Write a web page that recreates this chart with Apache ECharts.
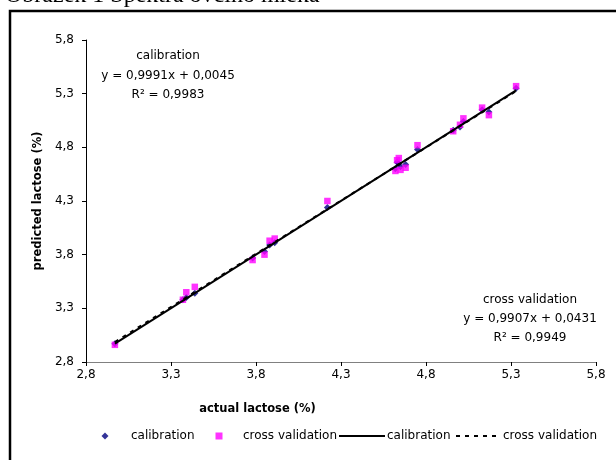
<!DOCTYPE html>
<html>
<head>
<meta charset="utf-8">
<script src="https://cdn.jsdelivr.net/npm/echarts@6/dist/echarts.min.js"></script>
<style>
html,body{margin:0;padding:0;background:#fff;}
#chart{width:616px;height:460px;}
</style>
</head>
<body>
<div id="chart"></div>
<script>
// actual lactose (%) of the samples
var actual = [2.97, 3.37, 3.39, 3.44, 3.78, 3.85, 3.88, 3.91, 4.22, 4.62, 4.63, 4.64, 4.65, 4.68, 4.75, 4.96, 5.00, 5.02, 5.13, 5.17, 5.33];
// predicted lactose (%), calibration
var calibrationPred = [2.97, 3.38, 3.40, 3.44, 3.77, 3.83, 3.89, 3.91, 4.24, 4.60, 4.66, 4.65, 4.62, 4.64, 4.78, 4.96, 4.99, 5.04, 5.15, 5.13, 5.35];
// predicted lactose (%), cross validation
var crossValPred = [2.96, 3.38, 3.45, 3.50, 3.75, 3.80, 3.93, 3.95, 4.30, 4.58, 4.68, 4.70, 4.59, 4.61, 4.82, 4.95, 5.01, 5.07, 5.17, 5.10, 5.37];
// trend line end points [x, y]
var calibrationLine = [[2.97, 2.972], [5.33, 5.330]];
var crossValLine = [[2.97, 2.986], [5.33, 5.324]];
// axis ticks
var tickValues = [2.8, 3.3, 3.8, 4.3, 4.8, 5.3, 5.8];
var tickLabels = ['2,8', '3,3', '3,8', '4,3', '4,8', '5,3', '5,8'];

function pairs(xs, ys) { return xs.map(function (x, i) { return [x, ys[i]]; }); }
function fmt(v) {
  for (var i = 0; i < tickValues.length; i++) if (Math.abs(tickValues[i] - v) < 1e-6) return tickLabels[i];
  return '';
}

var FONT = 'DejaVu Sans';
var chart = echarts.init(document.getElementById('chart'), null, {renderer: 'canvas'});

function axisCommon(lineColor) {
  return {
    type: 'value', min: 2.8, max: 5.8,
    axisLine: {show: true, lineStyle: {color: lineColor, width: 1}},
    axisTick: {show: true, length: 4, inside: false, customValues: tickValues, lineStyle: {color: '#000'}},
    axisLabel: {show: true, customValues: tickValues, formatter: fmt, color: '#000', fontFamily: FONT, fontSize: 12},
    splitLine: {show: false}
  };
}

var xAxis = axisCommon('#808080');
xAxis.name = 'actual lactose (%)';
xAxis.nameLocation = 'middle';
xAxis.nameGap = 41;
xAxis.nameTextStyle = {fontFamily: FONT, fontSize: 11.5, fontWeight: 'bold', color: '#000', padding: [0, 167, 0, 0]};
xAxis.axisLabel.margin = 7;

var yAxis = axisCommon('#000');
yAxis.name = 'predicted lactose (%)';
yAxis.nameLocation = 'middle';
yAxis.nameGap = 41;
yAxis.nameRotate = 90;
yAxis.nameTextStyle = {fontFamily: FONT, fontSize: 11.5, fontWeight: 'bold', color: '#000'};
yAxis.axisLabel.margin = 12;

function legendItem(name, left, w, textPad, hideSymbol) {
  var l = {
    data: [name], left: left, top: 430, itemWidth: w, itemHeight: 7, itemGap: 0,
    selectedMode: false, orient: 'horizontal', padding: 0,
    formatter: function (n) { return n.trim(); },
    textStyle: {fontFamily: FONT, fontSize: 12, color: '#000', padding: [0, 0, 0, textPad]}
  };
  if (hideSymbol) l.itemStyle = {opacity: 0};
  return l;
}

var option = {
  animation: false,
  backgroundColor: '#fff',
  grid: {left: 86, right: 20, top: 40, bottom: 98, containLabel: false},
  xAxis: xAxis,
  yAxis: yAxis,
  legend: [
    legendItem('calibration', 101.5, 7, 17.5, false),
    legendItem('cross validation', 215.5, 7, 15.5, false),
    legendItem('calibration ', 338, 46, -3, true),
    legendItem('cross validation ', 455, 43, -1, true)
  ],
  graphic: [
    {type: 'rect', shape: {x: 10, y: 11, width: 700, height: 600}, style: {fill: 'none', stroke: '#000', lineWidth: 2.5}, z: 100},
    {type: 'text', x: 5, y: 8, style: {text: 'Obrázek 1 Spektra ovčího mléka', fontFamily: 'Liberation Serif', fontSize: 24, fill: '#000', verticalAlign: 'bottom', align: 'left'}},
    {type: 'text', x: 168, y: 56, style: {text: 'calibration', fontFamily: FONT, fontSize: 12, fill: '#000', align: 'center', verticalAlign: 'middle'}},
    {type: 'text', x: 168, y: 76, style: {text: 'y = 0,9991x + 0,0045', fontFamily: FONT, fontSize: 12, fill: '#000', align: 'center', verticalAlign: 'middle'}},
    {type: 'text', x: 168, y: 95, style: {text: 'R² = 0,9983', fontFamily: FONT, fontSize: 12, fill: '#000', align: 'center', verticalAlign: 'middle'}},
    {type: 'text', x: 530, y: 300, style: {text: 'cross validation', fontFamily: FONT, fontSize: 12, fill: '#000', align: 'center', verticalAlign: 'middle'}},
    {type: 'text', x: 530, y: 319, style: {text: 'y = 0,9907x + 0,0431', fontFamily: FONT, fontSize: 12, fill: '#000', align: 'center', verticalAlign: 'middle'}},
    {type: 'text', x: 530, y: 338, style: {text: 'R² = 0,9949', fontFamily: FONT, fontSize: 12, fill: '#000', align: 'center', verticalAlign: 'middle'}}
  ],
  series: [
    {name: 'calibration', type: 'scatter', data: pairs(actual, calibrationPred),
     symbol: 'diamond', symbolSize: 7, itemStyle: {color: '#000080'}, z: 2,
     legendIcon: 'path://M0,-1L1,0L0,1L-1,0Z'},
    {name: 'cross validation', type: 'scatter', data: pairs(actual, crossValPred),
     symbol: 'rect', symbolSize: 6.5, itemStyle: {color: '#ff00ff'}, z: 3,
     legendIcon: 'path://M0,0H1V1H0Z'},
    {name: 'calibration ', type: 'line', data: calibrationLine, symbol: 'none',
     lineStyle: {color: '#000', width: 2, type: 'solid'}, itemStyle: {color: '#000'}, z: 4},
    {name: 'cross validation ', type: 'line', data: crossValLine, symbol: 'none',
     lineStyle: {color: '#000', width: 2, type: [4, 5]}, itemStyle: {color: '#000'}, z: 5}
  ]
};
chart.setOption(option);
</script>
</body>
</html>
